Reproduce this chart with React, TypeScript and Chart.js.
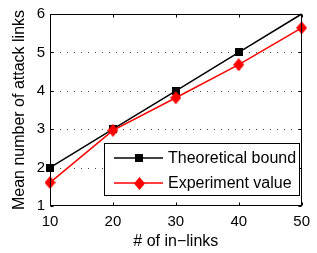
import { useEffect, useRef } from 'react';
import { Chart, registerables } from 'chart.js';

Chart.register(...registerables);

const inLinks = [10, 20, 30, 40, 50];
const theoreticalBound = [2, 3, 4, 5, 6];
const experimentValue = [1.61, 2.97, 3.82, 4.68, 5.64];
const xTickValues = [10, 20, 30, 40, 50];
const yTickValues = [1, 2, 3, 4, 5, 6];
const gridValues = [2, 3, 4, 5];
const seriesNames = ['Theoretical bound', 'Experiment value'];
const xTitle = '# of in\u2212links';
const yTitle = 'Mean number of attack links';

const FONT = '"Liberation Sans", Arial, Helvetica, sans-serif';

function makeSquare(size: number, color: string) {
  const c = document.createElement('canvas');
  c.width = size;
  c.height = size;
  const ctx = c.getContext('2d')!;
  ctx.fillStyle = color;
  ctx.fillRect(0, 0, size, size);
  return c;
}

function makeDiamond(w: number, h: number, color: string) {
  const c = document.createElement('canvas');
  c.width = w;
  c.height = h;
  const ctx = c.getContext('2d')!;
  ctx.fillStyle = color;
  ctx.beginPath();
  ctx.moveTo(w / 2, 0);
  ctx.lineTo(w, h / 2);
  ctx.lineTo(w / 2, h);
  ctx.lineTo(0, h / 2);
  ctx.closePath();
  ctx.fill();
  return c;
}

export default function App() {
  const ref = useRef<HTMLCanvasElement | null>(null);

  useEffect(() => {
    const canvas = ref.current;
    if (!canvas) return;
    const square = makeSquare(8, '#000000');
    const diamond = makeDiamond(11, 13, '#ff0000');

    const gridPlugin = {
      id: 'dottedGrid',
      beforeDatasetsDraw(chart: any) {
        const { ctx, chartArea } = chart;
        const ys = chart.scales.y;
        ctx.save();
        ctx.strokeStyle = '#444';
        ctx.lineWidth = 1;
        ctx.setLineDash([1, 6]);
        ctx.beginPath();
        gridValues.forEach((v) => {
          const py = Math.round(ys.getPixelForValue(v)) + 0.5;
          ctx.moveTo(chartArea.left + 3, py);
          ctx.lineTo(chartArea.right - 3, py);
        });
        ctx.stroke();
        ctx.restore();
      },
    };

    const framePlugin = {
      id: 'frame',
      afterDatasetsDraw(chart: any) {
        const { ctx, chartArea } = chart;
        const { left, right, top, bottom } = chartArea;
        const xs = chart.scales.x;
        const ys = chart.scales.y;
        ctx.save();
        ctx.strokeStyle = '#000';
        ctx.lineWidth = 1;
        const L = Math.round(left) + 0.5;
        const R = Math.round(right) - 0.5;
        const T = Math.round(top) + 0.5;
        const B = Math.round(bottom) - 0.5;
        ctx.strokeRect(L, T, R - L, B - T);
        ctx.beginPath();
        const tl = 3;
        xTickValues.forEach((v) => {
          const px = Math.round(xs.getPixelForValue(v)) + 0.5;
          ctx.moveTo(px, B);
          ctx.lineTo(px, B - tl);
          ctx.moveTo(px, T);
          ctx.lineTo(px, T + tl);
        });
        yTickValues.forEach((v) => {
          const py = Math.round(ys.getPixelForValue(v)) + 0.5;
          ctx.moveTo(L, py);
          ctx.lineTo(L + tl, py);
          ctx.moveTo(R, py);
          ctx.lineTo(R - tl, py);
        });
        ctx.stroke();

        // legend
        const lx = 104.5, ly = 143.5, lw = 195, lh = 52;
        ctx.fillStyle = '#fff';
        ctx.fillRect(lx, ly, lw, lh);
        ctx.strokeRect(lx, ly, lw, lh);
        const rows = [
          { name: seriesNames[0], color: '#000000', img: square, y: 158 },
          { name: seriesNames[1], color: '#ff0000', img: diamond, y: 183 },
        ];
        ctx.font = '16px ' + FONT;
        ctx.textBaseline = 'middle';
        ctx.textAlign = 'left';
        rows.forEach((r) => {
          ctx.strokeStyle = r.color;
          ctx.lineWidth = 1.5;
          ctx.beginPath();
          ctx.moveTo(114, r.y);
          ctx.lineTo(163, r.y);
          ctx.stroke();
          ctx.drawImage(r.img, Math.round(139 - r.img.width / 2), Math.round(r.y - r.img.height / 2));
          ctx.fillStyle = '#000';
          ctx.fillText(r.name, 168, r.y + 1);
        });
        ctx.restore();
      },
    };

    const chart = new Chart(canvas, {
      type: 'line',
      data: {
        labels: inLinks,
        datasets: [
          {
            label: seriesNames[0],
            data: inLinks.map((x, i) => ({ x, y: theoreticalBound[i] })),
            borderColor: '#000000',
            backgroundColor: '#000000',
            borderWidth: 1.5,
            pointStyle: [square, square, square, square, false] as any,
            pointRadius: 5,
            clip: false as any,
            order: 2,
            tension: 0,
          },
          {
            label: seriesNames[1],
            data: inLinks.map((x, i) => ({ x, y: experimentValue[i] })),
            borderColor: '#ff0000',
            backgroundColor: '#ff0000',
            borderWidth: 1.5,
            pointStyle: diamond as any,
            pointRadius: 6,
            clip: false as any,
            order: 1,
            tension: 0,
          },
        ],
      },
      options: {
        animation: false,
        responsive: false,
        events: [],
        layout: { padding: { top: 10, right: 7, left: 0, bottom: 0 } },
        plugins: {
          legend: { display: false },
          tooltip: { enabled: false },
        },
        scales: {
          x: {
            type: 'linear',
            min: 10,
            max: 50,
            afterFit: (s: any) => { s.height = 47; },
            afterBuildTicks: (s: any) => { s.ticks = xTickValues.map((v) => ({ value: v })); },
            grid: { display: false, drawTicks: false },
            border: { display: false },
            ticks: {
              padding: 7,
              color: '#000',
              font: { family: FONT, size: 15 },
              maxRotation: 0,
            },
            title: {
              display: true,
              text: xTitle,
              color: '#000',
              font: { family: FONT, size: 16 },
              padding: { top: 0, bottom: 2 },
            },
          },
          y: {
            type: 'linear',
            min: 1,
            max: 6,
            afterFit: (s: any) => { s.width = 50; },
            afterBuildTicks: (s: any) => { s.ticks = yTickValues.map((v) => ({ value: v })); },
            grid: { display: false, drawTicks: false },
            border: { display: false },
            ticks: {
              padding: 5,
              color: '#000',
              font: { family: FONT, size: 15 },
            },
            title: {
              display: true,
              text: yTitle,
              color: '#000',
              font: { family: FONT, size: 16 },
              padding: { top: 10, bottom: 0 },
            },
          },
        },
      },
      plugins: [gridPlugin, framePlugin],
    } as any);

    return () => chart.destroy();
  }, []);

  return (
    <div style={{ position: 'fixed', left: 0, top: 0, width: 317, height: 253, background: '#fff' }}>
      <canvas ref={ref} width={317} height={253} style={{ width: 317, height: 253, display: 'block' }} />
    </div>
  );
}
